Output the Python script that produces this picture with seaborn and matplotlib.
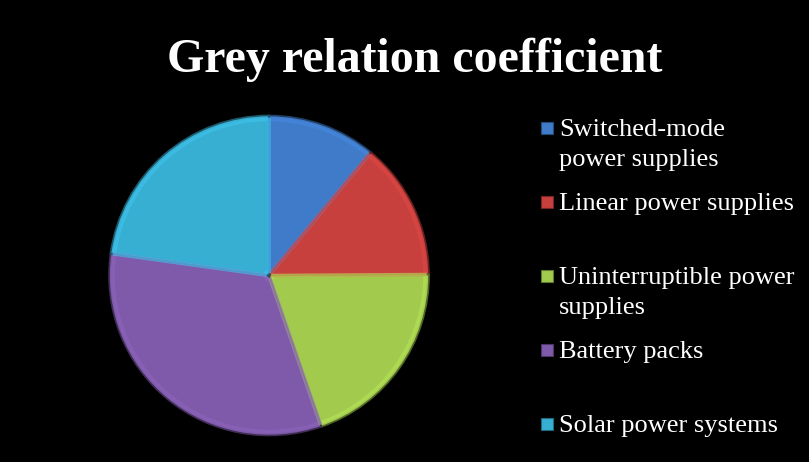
import matplotlib
matplotlib.use("Agg")
import matplotlib.pyplot as plt
import seaborn as sns
import numpy as np
from matplotlib.patches import Rectangle
from matplotlib.colors import to_rgb

# Data (share of the pie, in %)
categories = ["Switched-mode\npower supplies", "Linear power supplies",
              "Uninterruptible power\nsupplies", "Battery packs", "Solar power systems"]
values = [11.0, 13.9, 19.8, 32.5, 22.8]
colors = ["#3F7BC9", "#C8403D", "#A2CB4E", "#7F5AAA", "#37AFD3"]

sns.set_theme(style="white")
plt.rcParams['font.family'] = ['Liberation Serif', 'DejaVu Serif']

W, H = 809, 462
fig = plt.figure(figsize=(W / 100, H / 100), dpi=100)
fig.patch.set_facecolor("black")

# pie axes: centre ~ (269, 275) px, radius ~160 px
cx, cy, r = 269, 275.5, 160
ax = fig.add_axes([(cx - r) / W, (H - cy - r) / H, 2 * r / W, 2 * r / H])
ax.set_facecolor("black")
edge = [tuple(np.array(to_rgb(c)) * 0.5) for c in colors]
wedges, _ = ax.pie(values, colors=colors, startangle=90, counterclock=False,
                   radius=1.0, wedgeprops=dict(linewidth=1.2))
for w, e in zip(wedges, edge):
    w.set_edgecolor(e)
# soft bevel: lighter inner ring
wedges2, _ = ax.pie(values, colors=["none"] * len(values), startangle=90, counterclock=False,
                    radius=0.975, wedgeprops=dict(linewidth=2.5, width=0.95))
for w, c in zip(wedges2, colors):
    w.set_edgecolor(tuple(np.clip(np.array(to_rgb(c)) * 1.12, 0, 1)))
    w.set_alpha(0.6)
ax.set_xlim(-1.0, 1.0)
ax.set_ylim(-1.0, 1.0)
ax.set_aspect("equal")
ax.axis("off")

fig.text(415 / W, 1 - 60 / H, "Grey relation coefficient", color="white", fontsize=34.5,
         fontweight="bold", ha="center", va="center")

# legend, drawn by hand to follow the uneven spacing
for i, (lab, c) in enumerate(zip(categories, colors)):
    y = 128 + i * 74
    fig.patches.append(Rectangle((541 / W, 1 - (y + 6) / H), 12 / W, 12 / H,
                                 transform=fig.transFigure, facecolor=c,
                                 edgecolor=tuple(np.array(to_rgb(c)) * 0.6), linewidth=0.8))
    for k, line in enumerate(lab.split("\n")):
        fig.text(559 / W, 1 - (y + 8 + k * 30) / H, line, color="white", fontsize=19,
                 ha="left", va="baseline")

fig.savefig("out.png", dpi=100, facecolor="black")
